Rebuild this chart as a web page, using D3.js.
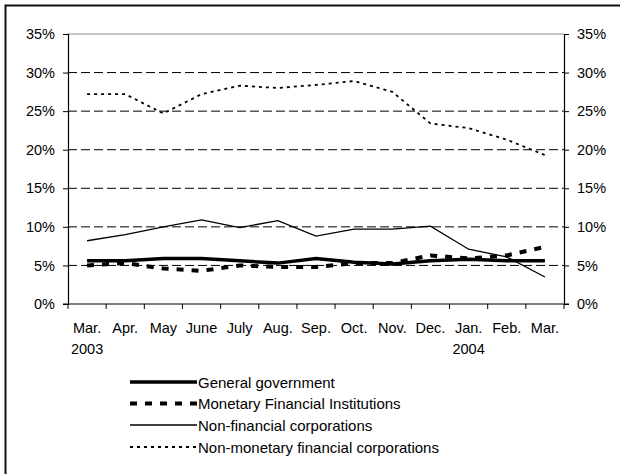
<!DOCTYPE html>
<html>
<head>
<meta charset="utf-8">
<script src="https://cdn.jsdelivr.net/npm/d3@7"></script>
<style>
  body { margin: 0; background: #fff; }
  svg text { font-family: "Liberation Sans", Arial, sans-serif; fill: #000; }
</style>
</head>
<body>
<svg id="chart" width="620" height="474"></svg>
<script>
// months along the bottom, year shown under first and Jan.
var months = ["Mar.", "Apr.", "May", "June", "July", "Aug.", "Sep.", "Oct.", "Nov.", "Dec.", "Jan.", "Feb.", "Mar."];
var years = ["2003", "", "", "", "", "", "", "", "", "", "2004", "", ""];
var yTicks = [0, 5, 10, 15, 20, 25, 30, 35];

var generalGov = [5.6, 5.6, 5.9, 5.9, 5.6, 5.3, 5.9, 5.4, 5.2, 5.6, 5.8, 5.6, 5.6];
var mfi = [5.0, 5.3, 4.6, 4.3, 5.0, 4.8, 4.8, 5.3, 5.3, 6.3, 5.9, 6.3, 7.4];
var nonFinCorp = [8.2, 9.0, 10.0, 10.9, 9.9, 10.8, 8.8, 9.7, 9.7, 10.1, 7.1, 6.1, 3.5];
var nonMonFin = [27.2, 27.2, 24.7, 27.2, 28.3, 28.0, 28.4, 28.9, 27.5, 23.4, 22.8, 21.3, 19.3];

var seriesNames = ["General government", "Monetary Financial Institutions", "Non-financial corporations", "Non-monetary financial corporations"];
var seriesStyles = [
  { width: 3.5, dash: null },
  { width: 4, dash: "7,8" },
  { width: 1.3, dash: null },
  { width: 1.8, dash: "3,4" }
];

var plot = { left: 68, right: 564, top: 34, bottom: 304 };

var svg = d3.select("#chart");

// outer frame (only left and top visible)
svg.append("rect")
  .attr("x", 5.5).attr("y", 5.5)
  .attr("width", 700).attr("height", 600)
  .attr("fill", "none")
  .attr("stroke", "#111")
  .attr("stroke-width", 2);

var x = d3.scaleBand()
  .domain(d3.range(months.length))
  .range([plot.left, plot.right]);

var y = d3.scaleLinear()
  .domain([0, 35])
  .range([plot.bottom, plot.top]);

// gridlines
svg.append("g")
  .selectAll("line")
  .data(yTicks.filter(function(d) { return d > 0 && d < 35; }))
  .join("line")
  .attr("x1", plot.left).attr("x2", plot.right)
  .attr("y1", function(d) { return y(d); })
  .attr("y2", function(d) { return y(d); })
  .attr("stroke", "#000")
  .attr("stroke-width", 1)
  .attr("stroke-dasharray", "9,4");

// top edge of plot area
svg.append("line")
  .attr("x1", plot.left).attr("x2", plot.right)
  .attr("y1", y(35)).attr("y2", y(35))
  .attr("stroke", "#888")
  .attr("stroke-width", 1.2);

var fmt = function(d) { return d + "%"; };

var leftAxis = svg.append("g")
  .attr("transform", "translate(" + plot.left + ",0)")
  .call(d3.axisLeft(y).tickValues(yTicks).tickFormat(fmt).tickSize(5).tickPadding(8));

var rightAxis = svg.append("g")
  .attr("transform", "translate(" + plot.right + ",0)")
  .call(d3.axisRight(y).tickValues(yTicks).tickFormat(fmt).tickSize(5).tickPadding(8));

[leftAxis, rightAxis].forEach(function(a) {
  a.select(".domain").attr("stroke", "#000").attr("stroke-width", 1.2);
  a.selectAll(".tick line").attr("stroke", "#000");
  a.selectAll("text").attr("font-size", "14.5px").attr("font-family", null);
});

// bottom axis with ticks at category boundaries
var xAxis = svg.append("g");
xAxis.append("line")
  .attr("x1", plot.left - 5).attr("x2", plot.right + 5)
  .attr("y1", plot.bottom).attr("y2", plot.bottom)
  .attr("stroke", "#000").attr("stroke-width", 1.2);
xAxis.selectAll(".xtick")
  .data(d3.range(months.length + 1))
  .join("line")
  .attr("class", "xtick")
  .attr("x1", function(i) { return plot.left + i * x.step(); })
  .attr("x2", function(i) { return plot.left + i * x.step(); })
  .attr("y1", plot.bottom).attr("y2", plot.bottom + 5)
  .attr("stroke", "#000");
xAxis.selectAll(".mlabel")
  .data(months)
  .join("text")
  .attr("class", "mlabel")
  .attr("x", function(d, i) { return x(i) + x.bandwidth() / 2; })
  .attr("y", 333)
  .attr("text-anchor", "middle")
  .attr("font-size", "14.5px")
  .text(function(d) { return d; });
xAxis.selectAll(".ylabel")
  .data(years)
  .join("text")
  .attr("class", "ylabel")
  .attr("x", function(d, i) { return x(i) + x.bandwidth() / 2; })
  .attr("y", 354)
  .attr("text-anchor", "middle")
  .attr("font-size", "14.5px")
  .text(function(d) { return d; });

// series lines
var line = d3.line()
  .x(function(d, i) { return x(i) + x.bandwidth() / 2; })
  .y(function(d) { return y(d); });

var allSeries = [generalGov, mfi, nonFinCorp, nonMonFin];
// draw thin ones first, thick ones on top
[2, 3, 1, 0].forEach(function(k) {
  svg.append("path")
    .datum(allSeries[k])
    .attr("d", line)
    .attr("fill", "none")
    .attr("stroke", "#000")
    .attr("stroke-width", seriesStyles[k].width)
    .attr("stroke-dasharray", seriesStyles[k].dash);
});

// legend
var legendY = [382, 403.5, 425, 447];
var legend = svg.append("g");
seriesNames.forEach(function(name, k) {
  legend.append("line")
    .attr("x1", 130).attr("x2", 197)
    .attr("y1", legendY[k]).attr("y2", legendY[k])
    .attr("stroke", "#000")
    .attr("stroke-width", seriesStyles[k].width)
    .attr("stroke-dasharray", seriesStyles[k].dash);
  legend.append("text")
    .attr("x", 198)
    .attr("y", legendY[k] + 5.5)
    .attr("font-size", "15px")
    .text(name);
});
</script>
</body>
</html>
